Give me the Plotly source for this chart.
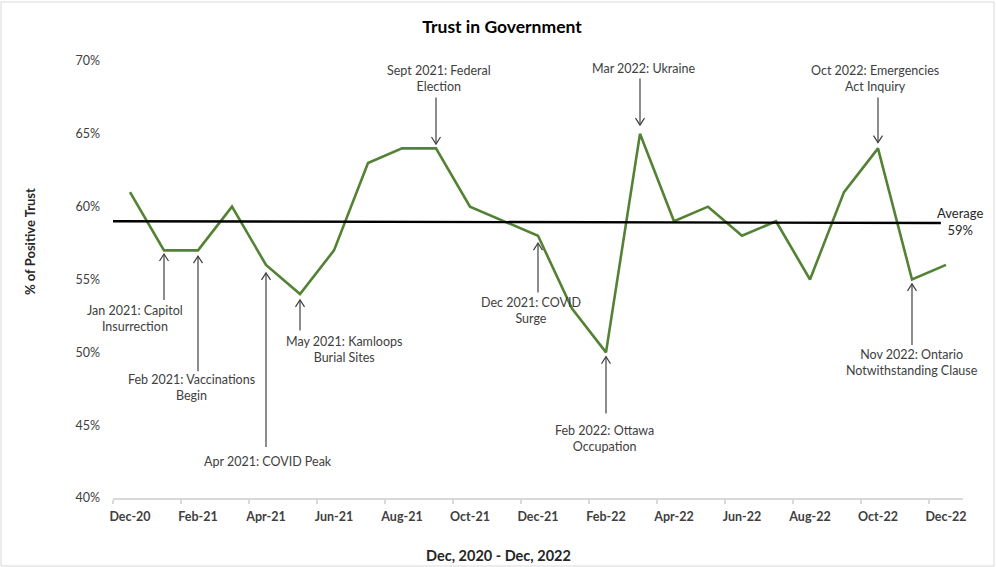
import plotly.graph_objects as go

months = ["Dec-20", "Jan-21", "Feb-21", "Mar-21", "Apr-21", "May-21", "Jun-21",
          "Jul-21", "Aug-21", "Sep-21", "Oct-21", "Nov-21", "Dec-21",
          "Jan-22", "Feb-22", "Mar-22", "Apr-22", "May-22", "Jun-22",
          "Jul-22", "Aug-22", "Sep-22", "Oct-22", "Nov-22", "Dec-22"]
trust = [61, 57, 57, 60, 56, 54, 57, 63, 64, 64, 60, 59, 58,
         53, 50, 65, 59, 60, 58, 59, 55, 61, 64, 55, 56]
average_ends = [59.0, 58.88]
y_ticks = [40, 45, 50, 55, 60, 65, 70]

# events: (month index, label, arrow head y, arrow tail y, text x, text y)
events = [
    (1, "Jan 2021: Capitol<br>Insurrection", 56.75, 53.6, 0.15, 52.3),
    (2, "Feb 2021: Vaccinations<br>Begin", 56.6, 48.7, 1.8, 47.6),
    (4, "Apr 2021: COVID Peak", 55.45, 43.5, 4.06, 42.5),
    (5, "May 2021: Kamloops<br>Burial Sites", 53.6, 51.5, 6.3, 50.2),
    (9, "Sept 2021: Federal<br>Election", 64.3, 67.5, 9.1, 68.8),
    (12, "Dec 2021: COVID<br>Surge", 57.5, 54.1, 11.8, 52.9),
    (14, "Feb 2022: Ottawa<br>Occupation", 49.7, 45.8, 13.97, 44.1),
    (15, "Mar 2022: Ukraine", 65.6, 68.8, 15.1, 69.5),
    (22, "Oct 2022: Emergencies<br>Act Inquiry", 64.4, 67.5, 21.9, 68.8),
    (23, "Nov 2022: Ontario<br>Notwithstanding Clause", 54.7, 50.5, 23.0, 49.3),
]

W, H = 996, 567
L, R, T, B = 113, 33, 61, 69
pw, ph = W - L - R, H - T - B
FONT = "Lato"
TXT = "#404040"

x_idx = list(range(len(months)))
xu = pw / 25.0          # pixels per month
yu = ph / 30.0          # pixels per percentage point

fig = go.Figure()
fig.add_trace(go.Scatter(x=x_idx, y=trust, mode="lines",
                         line=dict(color="#548235", width=2.6),
                         showlegend=False, hoverinfo="skip"))
fig.add_trace(go.Scatter(x=[-0.74, 23.85], y=average_ends, mode="lines",
                         line=dict(color="#000000", width=2.4),
                         showlegend=False, hoverinfo="skip"))

# arrows: shafts and open chevron heads built from event data
ax_x, ax_y = [], []
hw, hh = 4.5 / xu, 7.0 / yu
for idx, label, yh, yt, tx, ty in events:
    s = 1 if yt < yh else -1   # +1 = arrow points up
    ax_x += [idx, idx, None]
    ax_y += [yt, yh, None]
    ax_x += [idx - hw, idx, idx + hw, None]
    ax_y += [yh - s * hh, yh, yh - s * hh, None]
fig.add_trace(go.Scatter(x=ax_x, y=ax_y, mode="lines",
                         line=dict(color=TXT, width=1.2),
                         showlegend=False, hoverinfo="skip"))

ann = []
for idx, label, yh, yt, tx, ty in events:
    ann.append(dict(x=tx, y=ty, xref="x", yref="y", text=label, showarrow=False,
                    xanchor="center", yanchor="middle",
                    font=dict(family=FONT, size=12.5, color=TXT), align="center"))

ann.append(dict(x=(960 - L) / pw, y=(498 - 221) / ph, xref="paper", yref="paper",
                text="Average<br>59%", showarrow=False, xanchor="center",
                yanchor="middle",
                font=dict(family=FONT, size=13, color="#262626"), align="center"))
# x axis title
ann.append(dict(x=(498 - L) / pw, y=(498 - 555) / ph, xref="paper", yref="paper",
                text="<b>Dec, 2020 - Dec, 2022</b>", showarrow=False,
                xanchor="center", yanchor="middle",
                font=dict(family=FONT, size=14.5, color="#262626")))
# y axis title
ann.append(dict(x=(30 - L) / pw, y=(498 - 242) / ph, xref="paper", yref="paper",
                text="<b>% of Positive Trust</b>", showarrow=False, textangle=-90,
                xanchor="center", yanchor="middle",
                font=dict(family=FONT, size=13, color="#262626")))

shapes = [dict(type="rect", xref="paper", yref="paper",
               x0=(1 - L) / pw, x1=(994 - L) / pw,
               y0=(498 - 566) / ph, y1=(498 - 2) / ph,
               line=dict(color="#d9d9d9", width=1), fillcolor="rgba(0,0,0,0)",
               layer="below")]

fig.update_layout(
    width=W, height=H,
    margin=dict(l=L, r=R, t=T, b=B),
    paper_bgcolor="white", plot_bgcolor="white",
    title=dict(text="<b>Trust in Government</b>", x=502 / W, xref="container",
               y=1 - 27 / H, yref="container", xanchor="center", yanchor="middle",
               font=dict(family=FONT, size=17.5, color="#000000")),
    annotations=ann, shapes=shapes,
    xaxis=dict(range=[-0.5, 24.5], tickmode="array", tickvals=x_idx[::2],
               ticktext=["<b>%s</b>" % m for m in months[::2]],
               ticks="", showgrid=False, zeroline=False,
               showline=True, linecolor="#d9d9d9", linewidth=1.5,
               tickfont=dict(family=FONT, size=12.5, color="#404040"),
               ticklabelstandoff=6,
               minor=dict(tickmode="array",
                          tickvals=[i - 0.5 for i in range(0, 26, 2)],
                          ticks="outside", ticklen=4, tickcolor="#d9d9d9",
                          tickwidth=1.5, showgrid=False)),
    yaxis=dict(range=[40, 70], tickmode="array", tickvals=y_ticks,
               ticktext=["%d%%" % v for v in y_ticks], showgrid=False,
               zeroline=False, showline=False, ticks="",
               tickfont=dict(family=FONT, size=12.5, color="#404040"),
               ticklabelstandoff=12),
)

fig.write_html("out.html", config={"displayModeBar": False},
               post_script="document.body.style.margin='0px';")
